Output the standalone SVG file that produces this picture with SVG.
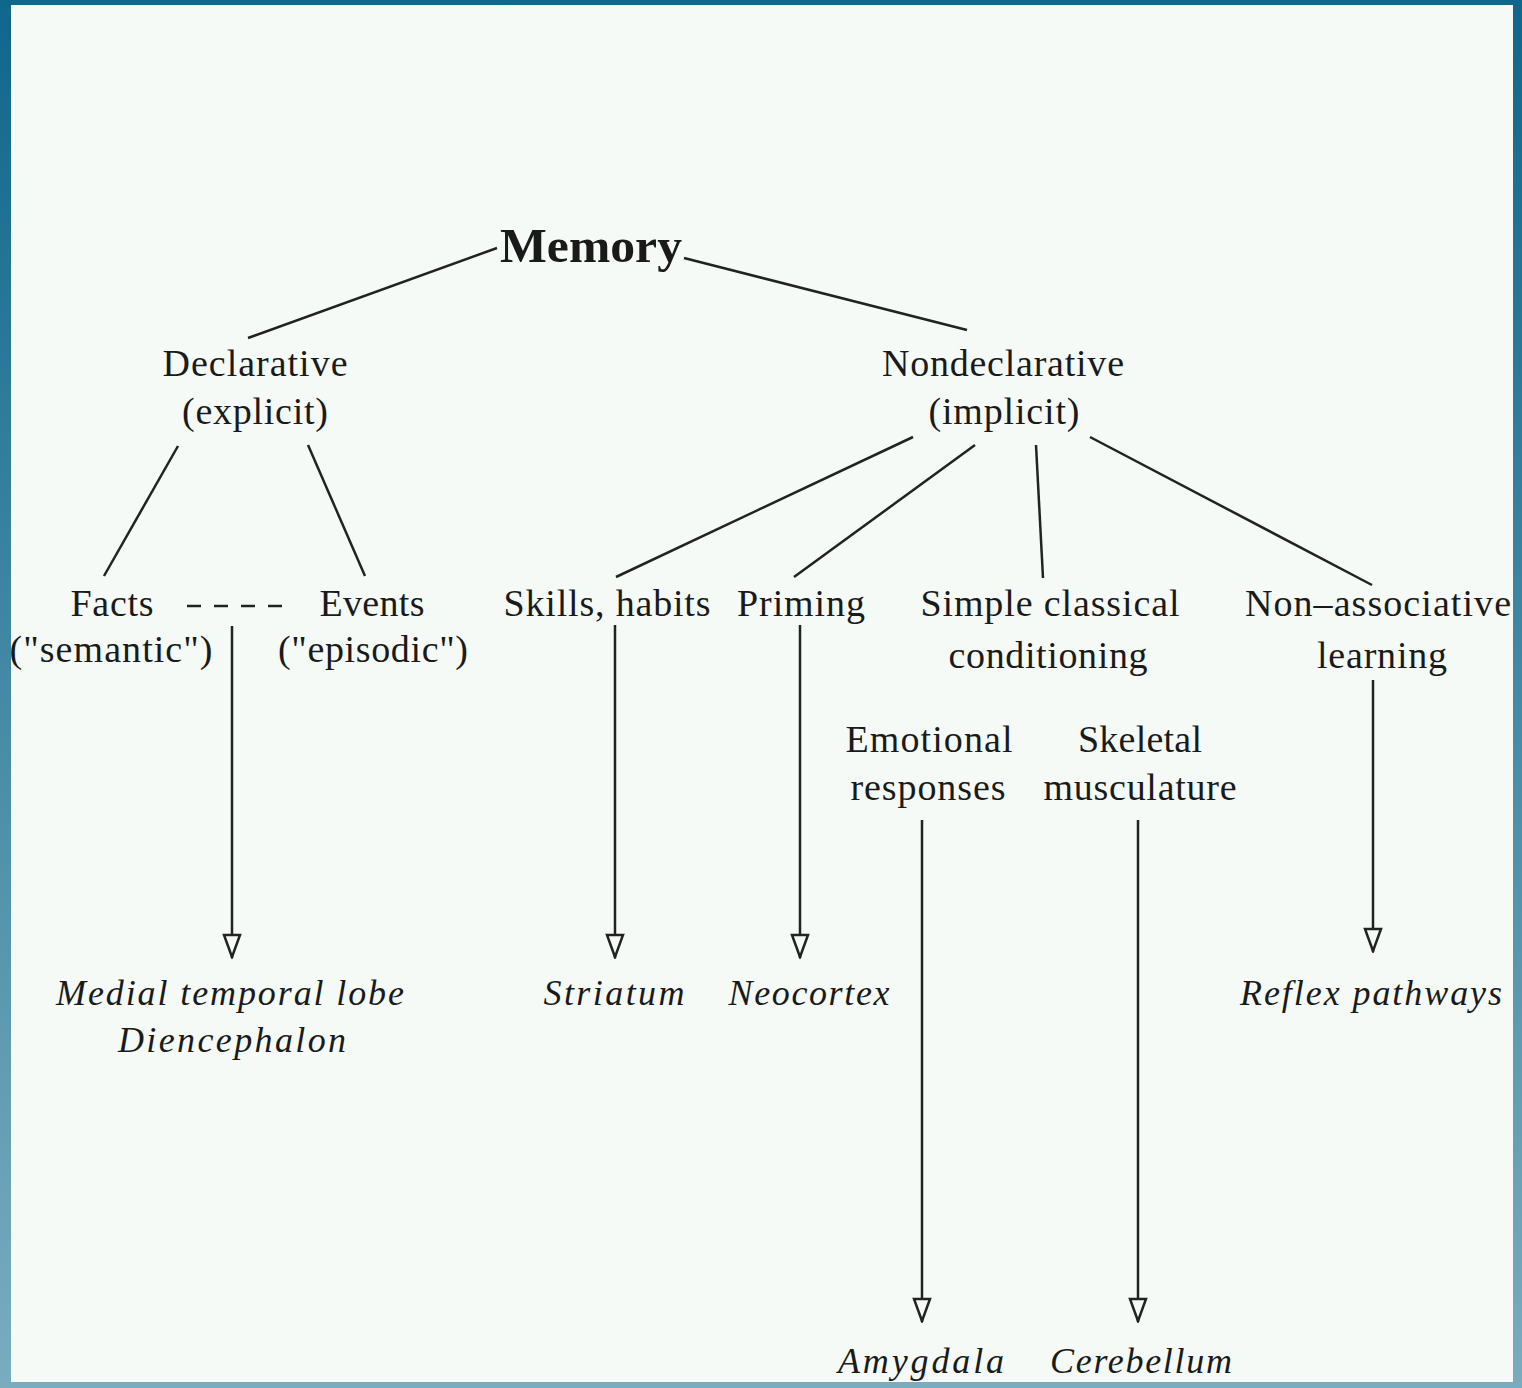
<svg xmlns="http://www.w3.org/2000/svg" width="1522" height="1388" viewBox="0 0 1522 1388">
<defs>
<linearGradient id="bg" x1="0" y1="0" x2="0" y2="1">
<stop offset="0" stop-color="#0f678b"/>
<stop offset="1" stop-color="#7aacbf"/>
</linearGradient>
<marker id="arr" viewBox="0 0 26 20" refX="25" refY="10" markerWidth="26" markerHeight="20" markerUnits="userSpaceOnUse" orient="auto">
<path d="M2,2 L2,18 L24,10 Z" fill="#f5faf7" stroke="#222" stroke-width="2.5" stroke-linejoin="miter"/>
</marker>
<style>
text{font-family:"Liberation Serif","DejaVu Serif",serif;fill:#1a1a1a;text-anchor:middle;font-size:38px}
.b{font-weight:bold;font-size:48px}
.i{font-style:italic;font-size:36px}
.c line,.c path{stroke:#222;stroke-width:2.5;fill:none}
.c .a{marker-end:url(#arr)}
</style>
</defs>
<rect x="0" y="0" width="1522" height="1388" fill="url(#bg)"/>
<rect x="11" y="5" width="1502" height="1377" fill="#f5faf7"/>
<g class="c" id="connectors">
<line x1="248" y1="338" x2="497" y2="248"/>
<line x1="684" y1="258" x2="967" y2="330"/>
<line x1="178" y1="446" x2="104" y2="576"/>
<line x1="308" y1="445" x2="365" y2="576"/>
<line x1="913" y1="437" x2="616" y2="577"/>
<line x1="975" y1="445" x2="794" y2="577"/>
<line x1="1036" y1="445" x2="1043" y2="578"/>
<line x1="1090" y1="437" x2="1372" y2="585"/>
<line x1="187" y1="606" x2="282" y2="606" stroke-dasharray="14,13"/>
<line class="a" x1="232" y1="626" x2="232" y2="958"/>
<line class="a" x1="615" y1="625" x2="615" y2="958"/>
<line class="a" x1="800" y1="625" x2="800" y2="958"/>
<line class="a" x1="1373" y1="680" x2="1373" y2="952"/>
<line class="a" x1="922" y1="820" x2="922" y2="1322"/>
<line class="a" x1="1138" y1="820" x2="1138" y2="1322"/>
</g>
<g id="memory"><text class="b" x="591" y="262" textLength="182" lengthAdjust="spacingAndGlyphs">Memory</text></g>
<g id="declarative">
<text x="255" y="376" textLength="185">Declarative</text>
<text x="255" y="424" textLength="146">(explicit)</text>
</g>
<g id="nondeclarative">
<text x="1003" y="376" textLength="242">Nondeclarative</text>
<text x="1004" y="424" textLength="151">(implicit)</text>
</g>
<g id="facts">
<text x="112" y="616" textLength="83">Facts</text>
<text x="111" y="662" textLength="203">("semantic")</text>
</g>
<g id="events">
<text x="372" y="616" textLength="105">Events</text>
<text x="373" y="662" textLength="190">("episodic")</text>
</g>
<g id="skills"><text x="607" y="616" textLength="207">Skills, habits</text></g>
<g id="priming"><text x="801" y="616" textLength="128">Priming</text></g>
<g id="conditioning">
<text x="1050" y="616" textLength="259">Simple classical</text>
<text x="1048" y="668" textLength="199">conditioning</text>
</g>
<g id="nonassociative">
<text x="1378" y="616" textLength="266">Non–associative</text>
<text x="1382" y="668" textLength="130">learning</text>
</g>
<g id="emotional">
<text x="929" y="752" textLength="167">Emotional</text>
<text x="928" y="800" textLength="155">responses</text>
</g>
<g id="skeletal">
<text x="1140" y="752" textLength="124">Skeletal</text>
<text x="1140" y="800" textLength="193">musculature</text>
</g>
<g id="mtl">
<text class="i" x="230" y="1005" textLength="348">Medial temporal lobe</text>
<text class="i" x="232" y="1052" textLength="228">Diencephalon</text>
</g>
<g id="striatum"><text class="i" x="614" y="1005" textLength="141">Striatum</text></g>
<g id="neocortex"><text class="i" x="809" y="1005" textLength="161">Neocortex</text></g>
<g id="reflex"><text class="i" x="1371" y="1005" textLength="262">Reflex pathways</text></g>
<g id="amygdala"><text class="i" x="921" y="1373" textLength="166">Amygdala</text></g>
<g id="cerebellum"><text class="i" x="1141" y="1373" textLength="182">Cerebellum</text></g>
</svg>
